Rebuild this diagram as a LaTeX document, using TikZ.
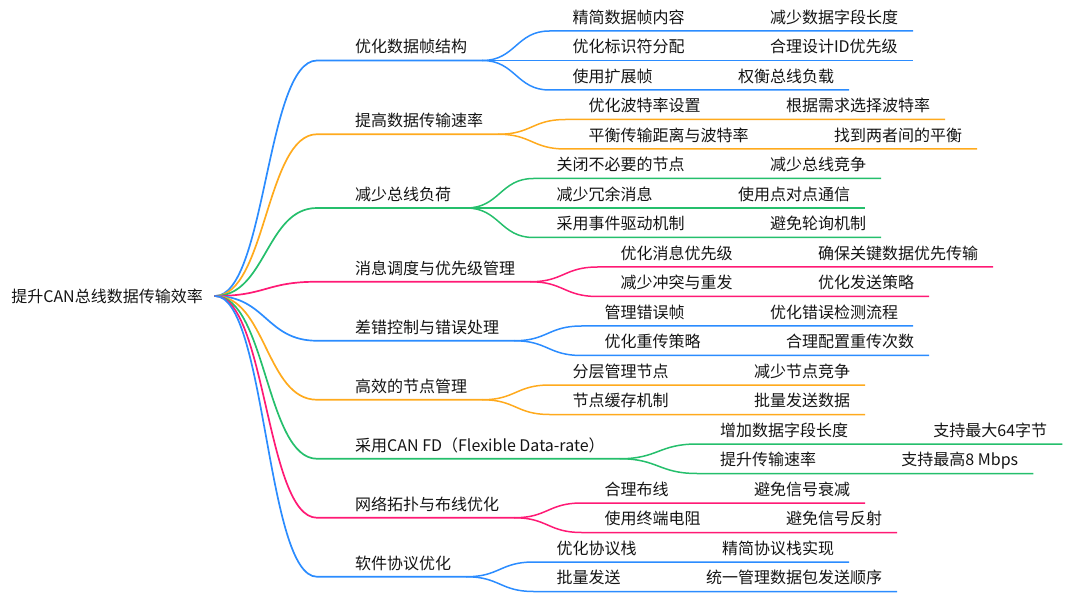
\documentclass[tikz,border=0pt]{standalone}
\usepackage{fontspec}
\setmainfont{Noto Sans CJK SC}
\definecolor{mmblue}{HTML}{2B8CFF}
\definecolor{mmorange}{HTML}{FFAA1D}
\definecolor{mmgreen}{HTML}{25BF6C}
\definecolor{mmpink}{HTML}{FF1A75}

\begin{document}
\begin{tikzpicture}[x=1pt, y=-1pt,
    every node/.style={font=\fontsize{16}{19}\selectfont, text=black!92, inner xsep=0pt, inner ysep=7.5pt, text depth=0pt},
    racine/.style={anchor=east, inner xsep=12pt},
    l1/.style={anchor=south west, execute at begin node=\hspace{38pt}, execute at end node=\hspace{15pt}},
    l2/.style={anchor=south west, xshift=67pt, execute at begin node=\hspace{23pt}, execute at end node=\hspace{15pt}},
    l3/.style={anchor=south west, execute at begin node=\hspace{70pt}, execute at end node=\hspace{15pt}},
    lk/.style={line width=1.7pt, line cap=round},
    lk2/.style={line width=1.5pt}]
    \useasboundingbox (0,0) rectangle (1080,604);

    % Racine
    \node[racine] (R) at (215,296) {提升CAN总线数据传输效率};

    % Niveau 1 (branches principales)
    \node[l1] (A) at (317,60.5) {优化数据帧结构};
    \node[l1] (B) at (317,134.25) {提高数据传输速率};
    \node[l1] (C) at (317,208) {减少总线负荷};
    \node[l1] (D) at (317,281.75) {消息调度与优先级管理};
    \node[l1] (E) at (317,340.75) {差错控制与错误处理};
    \node[l1] (F) at (317,399.75) {高效的节点管理};
    \node[l1] (G) at (317,458.75) {采用CAN FD（Flexible Data-rate）};
    \node[l1] (H) at (317,517.75) {网络拓扑与布线优化};
    \node[l1] (I) at (317,576.75) {软件协议优化};

    % Branches issues de la racine
    \draw[lk, mmblue] (R.east) .. controls +(51,0) and +(-51,0) .. (A.south west) -- (A.south east);
    \draw[lk, mmorange] (R.east) .. controls +(51,0) and +(-51,0) .. (B.south west) -- (B.south east);
    \draw[lk, mmgreen] (R.east) .. controls +(51,0) and +(-51,0) .. (C.south west) -- (C.south east);
    \draw[lk, mmpink] (R.east) .. controls +(51,0) and +(-51,0) .. (D.south west) -- (D.south east);
    \draw[lk, mmblue] (R.east) .. controls +(51,0) and +(-51,0) .. (E.south west) -- (E.south east);
    \draw[lk, mmorange] (R.east) .. controls +(51,0) and +(-51,0) .. (F.south west) -- (F.south east);
    \draw[lk, mmgreen] (R.east) .. controls +(51,0) and +(-51,0) .. (G.south west) -- (G.south east);
    \draw[lk, mmpink] (R.east) .. controls +(51,0) and +(-51,0) .. (H.south west) -- (H.south east);
    \draw[lk, mmblue] (R.east) .. controls +(51,0) and +(-51,0) .. (I.south west) -- (I.south east);

    % Niveau 2 et 3 issus de A
    \node[l2] (A1) at (A.south east |- 0,31) {精简数据帧内容};
    \node[l3] (A1r) at (A1.south east) {减少数据字段长度};
    \node[l2] (A2) at (A.south east |- 0,60.5) {优化标识符分配};
    \node[l3] (A2r) at (A2.south east) {合理设计ID优先级};
    \node[l2] (A3) at (A.south east |- 0,90) {使用扩展帧};
    \node[l3] (A3r) at (A3.south east) {权衡总线负载};
    \draw[lk2, mmblue] (A.south east) .. controls +(33,0) and +(-33,0) .. (A1.south west) -- (A1.south east) -- (A1r.south east);
    \draw[lk2, mmblue] (A.south east) .. controls +(33,0) and +(-33,0) .. (A2.south west) -- (A2.south east) -- (A2r.south east);
    \draw[lk2, mmblue] (A.south east) .. controls +(33,0) and +(-33,0) .. (A3.south west) -- (A3.south east) -- (A3r.south east);

    % Niveau 2 et 3 issus de B
    \node[l2] (B1) at (B.south east |- 0,119.5) {优化波特率设置};
    \node[l3] (B1r) at (B1.south east) {根据需求选择波特率};
    \node[l2] (B2) at (B.south east |- 0,149) {平衡传输距离与波特率};
    \node[l3] (B2r) at (B2.south east) {找到两者间的平衡};
    \draw[lk2, mmorange] (B.south east) .. controls +(33,0) and +(-33,0) .. (B1.south west) -- (B1.south east) -- (B1r.south east);
    \draw[lk2, mmorange] (B.south east) .. controls +(33,0) and +(-33,0) .. (B2.south west) -- (B2.south east) -- (B2r.south east);

    % Niveau 2 et 3 issus de C
    \node[l2] (C1) at (C.south east |- 0,178.5) {关闭不必要的节点};
    \node[l3] (C1r) at (C1.south east) {减少总线竞争};
    \node[l2] (C2) at (C.south east |- 0,208) {减少冗余消息};
    \node[l3] (C2r) at (C2.south east) {使用点对点通信};
    \node[l2] (C3) at (C.south east |- 0,237.5) {采用事件驱动机制};
    \node[l3] (C3r) at (C3.south east) {避免轮询机制};
    \draw[lk2, mmgreen] (C.south east) .. controls +(33,0) and +(-33,0) .. (C1.south west) -- (C1.south east) -- (C1r.south east);
    \draw[lk2, mmgreen] (C.south east) .. controls +(33,0) and +(-33,0) .. (C2.south west) -- (C2.south east) -- (C2r.south east);
    \draw[lk2, mmgreen] (C.south east) .. controls +(33,0) and +(-33,0) .. (C3.south west) -- (C3.south east) -- (C3r.south east);

    % Niveau 2 et 3 issus de D
    \node[l2] (D1) at (D.south east |- 0,267) {优化消息优先级};
    \node[l3] (D1r) at (D1.south east) {确保关键数据优先传输};
    \node[l2] (D2) at (D.south east |- 0,296.5) {减少冲突与重发};
    \node[l3] (D2r) at (D2.south east) {优化发送策略};
    \draw[lk2, mmpink] (D.south east) .. controls +(33,0) and +(-33,0) .. (D1.south west) -- (D1.south east) -- (D1r.south east);
    \draw[lk2, mmpink] (D.south east) .. controls +(33,0) and +(-33,0) .. (D2.south west) -- (D2.south east) -- (D2r.south east);

    % Niveau 2 et 3 issus de E
    \node[l2] (E1) at (E.south east |- 0,326) {管理错误帧};
    \node[l3] (E1r) at (E1.south east) {优化错误检测流程};
    \node[l2] (E2) at (E.south east |- 0,355.5) {优化重传策略};
    \node[l3] (E2r) at (E2.south east) {合理配置重传次数};
    \draw[lk2, mmblue] (E.south east) .. controls +(33,0) and +(-33,0) .. (E1.south west) -- (E1.south east) -- (E1r.south east);
    \draw[lk2, mmblue] (E.south east) .. controls +(33,0) and +(-33,0) .. (E2.south west) -- (E2.south east) -- (E2r.south east);

    % Niveau 2 et 3 issus de F
    \node[l2] (F1) at (F.south east |- 0,385) {分层管理节点};
    \node[l3] (F1r) at (F1.south east) {减少节点竞争};
    \node[l2] (F2) at (F.south east |- 0,414.5) {节点缓存机制};
    \node[l3] (F2r) at (F2.south east) {批量发送数据};
    \draw[lk2, mmorange] (F.south east) .. controls +(33,0) and +(-33,0) .. (F1.south west) -- (F1.south east) -- (F1r.south east);
    \draw[lk2, mmorange] (F.south east) .. controls +(33,0) and +(-33,0) .. (F2.south west) -- (F2.south east) -- (F2r.south east);

    % Niveau 2 et 3 issus de G
    \node[l2, xshift=10pt] (G1) at (G.south east |- 0,444) {增加数据字段长度};
    \node[l3] (G1r) at (G1.south east) {支持最大64字节};
    \node[l2, xshift=10pt] (G2) at (G.south east |- 0,473.5) {提升传输速率};
    \node[l3] (G2r) at (G2.south east) {支持最高8 Mbps};
    \draw[lk2, mmgreen] (G.south east) .. controls +(38,0) and +(-38,0) .. (G1.south west) -- (G1.south east) -- (G1r.south east);
    \draw[lk2, mmgreen] (G.south east) .. controls +(38,0) and +(-38,0) .. (G2.south west) -- (G2.south east) -- (G2r.south east);

    % Niveau 2 et 3 issus de H
    \node[l2] (H1) at (H.south east |- 0,503) {合理布线};
    \node[l3] (H1r) at (H1.south east) {避免信号衰减};
    \node[l2] (H2) at (H.south east |- 0,532.5) {使用终端电阻};
    \node[l3] (H2r) at (H2.south east) {避免信号反射};
    \draw[lk2, mmpink] (H.south east) .. controls +(33,0) and +(-33,0) .. (H1.south west) -- (H1.south east) -- (H1r.south east);
    \draw[lk2, mmpink] (H.south east) .. controls +(33,0) and +(-33,0) .. (H2.south west) -- (H2.south east) -- (H2r.south east);

    % Niveau 2 et 3 issus de I
    \node[l2] (I1) at (I.south east |- 0,562) {优化协议栈};
    \node[l3] (I1r) at (I1.south east) {精简协议栈实现};
    \node[l2] (I2) at (I.south east |- 0,591.5) {批量发送};
    \node[l3] (I2r) at (I2.south east) {统一管理数据包发送顺序};
    \draw[lk2, mmblue] (I.south east) .. controls +(33,0) and +(-33,0) .. (I1.south west) -- (I1.south east) -- (I1r.south east);
    \draw[lk2, mmblue] (I.south east) .. controls +(33,0) and +(-33,0) .. (I2.south west) -- (I2.south east) -- (I2r.south east);
\end{tikzpicture}
\end{document}
